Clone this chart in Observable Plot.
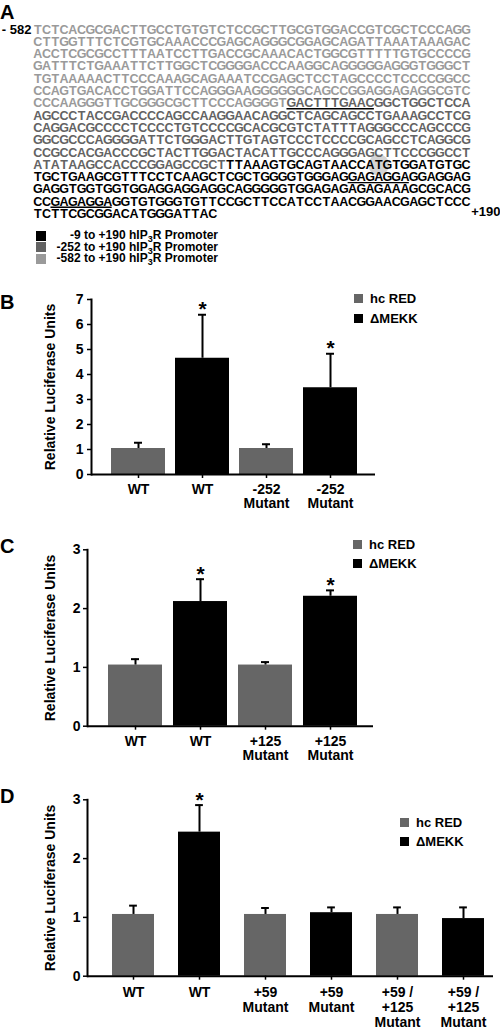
<!DOCTYPE html>
<html><head><meta charset="utf-8">
<script src="https://cdn.jsdelivr.net/npm/d3@7"></script>
<script src="https://cdn.jsdelivr.net/npm/@observablehq/plot@0.6"></script>
<style>
body{margin:0;background:#fff;font-family:"Liberation Sans",Arial,Helvetica,sans-serif;}
#page{position:relative;width:500px;height:1030px;overflow:hidden;background:#fff;}
#page svg{position:absolute;left:0;}
.lbl{position:absolute;font-weight:bold;font-size:20px;line-height:20px;}
.sw{position:absolute;width:9px;height:9px;}
.lt{position:absolute;font-weight:bold;font-size:13px;line-height:13px;white-space:nowrap;}
.la{position:absolute;font-weight:bold;font-size:12px;line-height:12px;white-space:nowrap;text-align:right;}
.la sub{font-size:9px;line-height:0;vertical-align:-3px;}
.yt{position:absolute;width:220px;height:16px;line-height:16px;font-weight:bold;font-size:14px;text-align:center;white-space:nowrap;transform:rotate(-90deg);transform-origin:50% 50%;}
</style></head><body><div id="page"></div>
<script>
const FONT = '"Liberation Sans", Arial, Helvetica, sans-serif';

// ---------- Panel A data ----------
const seqLines = [
 "TCTCACGCGACTTGCCTGTGTCTCCGCTTGCGTGGACCGTCGCTCCCAGG",
 "CTTGGTTTCTCGTGCAAACCCGAGCAGGGCGGAGCAGATTAAATAAAGAC",
 "ACCTCGCGCCTTTAATCCTTGACCGCAAACACTGGCGTTTTTGTGCCCCG",
 "GATTTCTGAAATTCTTGGCTCGGGGACCCAAGGCAGGGGGAGGGTGGGCT",
 "TGTAAAAACTTCCCAAAGCAGAAATCCGAGCTCCTAGCCCCTCCCCGGCC",
 "CCAGTGACACCTGGATTCCAGGGAAGGGGGGCAGCCGGAGGAGAGGCGTC",
 "CCCAAGGGTTGCGGGCGCTTCCCAGGGGTGACTTTGAACGGCTGGCTCCA",
 "AGCCCTACCGACCCCAGCCAAGGAACAGGCTCAGCAGCCTGAAAGCCTCG",
 "CAGGACGCCCCTCCCCTGTCCCCGCACGCGTCTATTTAGGGCCCAGCCCG",
 "GGCGCCCAGGGGATTCTGGGACTTGTAGTCCCTCCCCGCAGCCTCAGGCG",
 "CCGCCACGACCCGCTACTTGGACTACATTGCCCAGGGAGCTTCCCGGCCT",
 "ATATAAGCCACCCGGAGCCGCTTTAAAGTGCAGTAACCATGTGGATGTGC",
 "TGCTGAAGCGTTTCCTCAAGCTCGCTGGGGTGGGAGGAGAGGAGGAGGAG",
 "GAGGTGGTGGTGGAGGAGGAGGCAGGGGGTGGAGAGAGAGAAAGCGCACG",
 "CCGAGAGGAGGTGTGGGTGTTCCGCTTCCATCCTAACGGAACGAGCTCCC",
 "TCTTCGCGGACATGGGATTAC"
];
const regionStarts = [            // [line, char] where each promoter region begins
  {name: "-582", line: 0, ch: 0},
  {name: "-252", line: 6, ch: 29},
  {name: "-9", line: 11, ch: 22}
];
const regionNames = ["-9", "-252", "-582"];
const regionLegend = ["-9 to +190 hIP<sub>3</sub>R Promoter", "-252 to +190 hIP<sub>3</sub>R Promoter", "-582 to +190 hIP<sub>3</sub>R Promoter"];
const regionColors = {"-9": "#000000", "-252": "#636363", "-582": "#9a9a9a"};
const underlines = [{line: 6, s: 29, e: 39}, {line: 12, s: 36, e: 43}, {line: 14, s: 2, e: 9}];
const highlights = [{line: 11, s: 38, e: 41}];
const startLabel = "- 582", endLabel = "+190";

// ---------- Panel B data ----------
const bLabels = ["WT", "WT", "-252\nMutant", "-252\nMutant"];
const bSeries = ["hc RED", "ΔMEKK", "hc RED", "ΔMEKK"];
const bValues = [1.04, 4.65, 1.04, 3.47];
const bErrTop = [1.27, 6.39, 1.21, 4.83];
const bStar = [false, true, false, true];
const bTicks = [0, 1, 2, 3, 4, 5, 6, 7];

// ---------- Panel C data ----------
const cLabels = ["WT", "WT", "+125\nMutant", "+125\nMutant"];
const cSeries = ["hc RED", "ΔMEKK", "hc RED", "ΔMEKK"];
const cValues = [1.04, 2.12, 1.04, 2.21];
const cErrTop = [1.14, 2.50, 1.09, 2.31];
const cStar = [false, true, false, true];
const cTicks = [0, 1, 2, 3];

// ---------- Panel D data ----------
const dLabels = ["WT", "WT", "+59\nMutant", "+59\nMutant", "+59 /\n+125\nMutant", "+59 /\n+125\nMutant"];
const dSeries = ["hc RED", "ΔMEKK", "hc RED", "ΔMEKK", "hc RED", "ΔMEKK"];
const dValues = [1.05, 2.45, 1.05, 1.08, 1.05, 0.98];
const dErrTop = [1.20, 2.91, 1.16, 1.17, 1.17, 1.17];
const dStar = [false, true, false, false, false, false];
const dTicks = [0, 1, 2, 3];

const seriesNames = ["hc RED", "ΔMEKK"];
const seriesColors = ["#666666", "#000000"];
const yTitle = "Relative Luciferase Units";
const panelLetters = ["A", "B", "C", "D"];

const page = document.getElementById("page");

// ---------- Panel A ----------
function regionOf(l, i) {
  let r = regionStarts[0].name;
  for (const s of regionStarts) if (l > s.line || (l === s.line && i >= s.ch)) r = s.name;
  return r;
}
const chars = [];
seqLines.forEach((str, l) => [...str].forEach((c, i) => chars.push({l, i, c, region: regionOf(l, i)})));

const plotA = Plot.plot({
  width: 500, height: 225, margin: 0,
  x: {type: "linear", domain: [0, 50], range: [33, 470], axis: null},
  y: {type: "linear", domain: [0, 15], range: [29, 213.5], axis: null},
  color: {type: "identity"},
  style: {fontFamily: FONT, fontSize: "12px", background: "transparent", overflow: "visible"},
  marks: [
    Plot.dot(highlights, {x: d => (d.s + d.e) / 2, y: "line", r: 10.5, fill: "#d4d4d4", stroke: null}),
    Plot.text(chars, {x: d => d.i + 0.5, y: "l", text: "c", fill: d => regionColors[d.region], fontSize: 12.5, fontWeight: "bold"}),
    Plot.ruleY(underlines, {y: "line", x1: "s", x2: "e", dy: 5.5, stroke: "#000", strokeWidth: 1.4}),
    Plot.text([{x: 0, y: 0, t: startLabel}], {x: "x", y: "y", text: "t", textAnchor: "end", dx: -2, fontWeight: "bold", fontSize: 13, fill: "#000"}),
    Plot.text([{x: 50, y: 15, t: endLabel}], {x: "x", y: "y", text: "t", textAnchor: "end", dx: 30, dy: -2, fontWeight: "bold", fontSize: 13, fill: "#000"})
  ]
});
plotA.style.top = "0px";
page.appendChild(plotA);

// Legend of panel A
const legRowsA = [235, 246.5, 258];
regionNames.forEach((n, k) => {
  const sw = document.createElement("div");
  sw.className = "sw"; sw.style.left = "36px"; sw.style.top = (legRowsA[k] - 4.5) + "px";
  sw.style.width = "10px"; sw.style.height = "10px";
  sw.style.background = regionColors[n];
  page.appendChild(sw);
  const t = document.createElement("div");
  t.className = "la"; t.style.left = "48px"; t.style.width = "170px";
  t.style.top = (legRowsA[k] - 6) + "px";
  t.innerHTML = regionLegend[k];
  page.appendChild(t);
});

// ---------- Bar charts ----------
function barChart(o) {
  const data = o.values.map((v, i) => ({i, v, e: o.err[i], s: o.series[i], star: o.star[i]}));
  const n = data.length;
  const step = (o.xr[1] - o.xr[0]) / n;
  const bw = step * (1 - o.pad);
  const inset = (bw - 8) / 2;
  const p = Plot.plot({
    width: 500, height: o.height,
    marginTop: o.mt, marginBottom: o.mb, marginLeft: o.ml, marginRight: o.mr,
    style: {fontFamily: FONT, fontSize: "14px", fontWeight: "bold", color: "#000", background: "transparent", overflow: "visible"},
    x: {type: "band", domain: d3.range(n), range: o.xr, paddingInner: o.pad, paddingOuter: o.pad / 2, axis: null},
    y: {domain: [0, o.ticks[o.ticks.length - 1]], axis: null},
    color: {domain: seriesNames, range: seriesColors},
    marks: [
      Plot.barY(data, {x: "i", y: "v", fill: "s"}),
      Plot.ruleX(data, {x: "i", y1: "v", y2: "e", stroke: "#000", strokeWidth: 2}),
      Plot.tickY(data, {x: "i", y: "e", stroke: "#000", strokeWidth: 2, insetLeft: inset, insetRight: inset}),
      Plot.text(data.filter(d => d.star), {x: "i", y: "e", text: () => "*", fontSize: 21, fontWeight: "bold", lineAnchor: "bottom", dy: o.starDy, fill: "#000"}),
      Plot.ruleY([0], {stroke: "#000", strokeWidth: 2}),
      Plot.frame({anchor: "left", stroke: "#000", strokeWidth: 2}),
      Plot.axisY({ticks: o.ticks, tickSize: 4, tickPadding: o.tp, tickFormat: d3.format("d"), label: null, strokeWidth: 1.5}),
      Plot.axisX({tickSize: 4, tickPadding: 6, tickFormat: i => o.labels[i], label: null, strokeWidth: 1.5, lineHeight: o.lh})
    ]
  });
  p.style.top = o.top + "px";
  page.appendChild(p);
  // y title
  const cy = o.top + (o.mt + o.height - o.mb) / 2;
  const yt = document.createElement("div");
  yt.className = "yt";
  yt.style.left = (50 - 110) + "px";
  yt.style.top = (cy - 8) + "px";
  yt.textContent = yTitle;
  page.appendChild(yt);
  // legend
  seriesNames.forEach((s, k) => {
    const ly = o.legY[k];
    const sw = document.createElement("div");
    sw.className = "sw"; sw.style.left = o.legX + "px"; sw.style.top = (ly - 4.5) + "px";
    sw.style.background = seriesColors[k];
    page.appendChild(sw);
    const t = document.createElement("div");
    t.className = "lt"; t.style.left = (o.legX + 16) + "px"; t.style.top = (ly - 6.5) + "px";
    t.textContent = s;
    page.appendChild(t);
  });
}

barChart({values: bValues, err: bErrTop, series: bSeries, star: bStar, labels: bLabels, ticks: bTicks,
  top: 280, height: 240, mt: 19, mb: 46, ml: 91, mr: 125, xr: [105.25, 363.25], pad: 0.163, starDy: 1, tp: 4, lh: 1,
  legX: 354, legY: [298, 318]});
barChart({values: cValues, err: cErrTop, series: cSeries, star: cStar, labels: cLabels, ticks: cTicks,
  top: 520, height: 250, mt: 29.3, mb: 44.3, ml: 87, mr: 127, xr: [101.25, 363.25], pad: 0.176, starDy: 2, tp: 3, lh: 1,
  legX: 353, legY: [544, 563]});
barChart({values: dValues, err: dErrTop, series: dSeries, star: dStar, labels: dLabels, ticks: dTicks,
  top: 770, height: 260, mt: 29.3, mb: 54.3, ml: 87, mr: 7, xr: [100, 496], pad: 0.36, starDy: 2, tp: 3, lh: 1.07,
  legX: 400, legY: [822, 841]});

// panel letters
const letterTops = [1.5, 292, 536, 786];
panelLetters.forEach((L, k) => {
  const d = document.createElement("div");
  d.className = "lbl"; d.style.left = "0px"; d.style.top = letterTops[k] + "px";
  d.textContent = L;
  page.appendChild(d);
});
</script></body></html>
